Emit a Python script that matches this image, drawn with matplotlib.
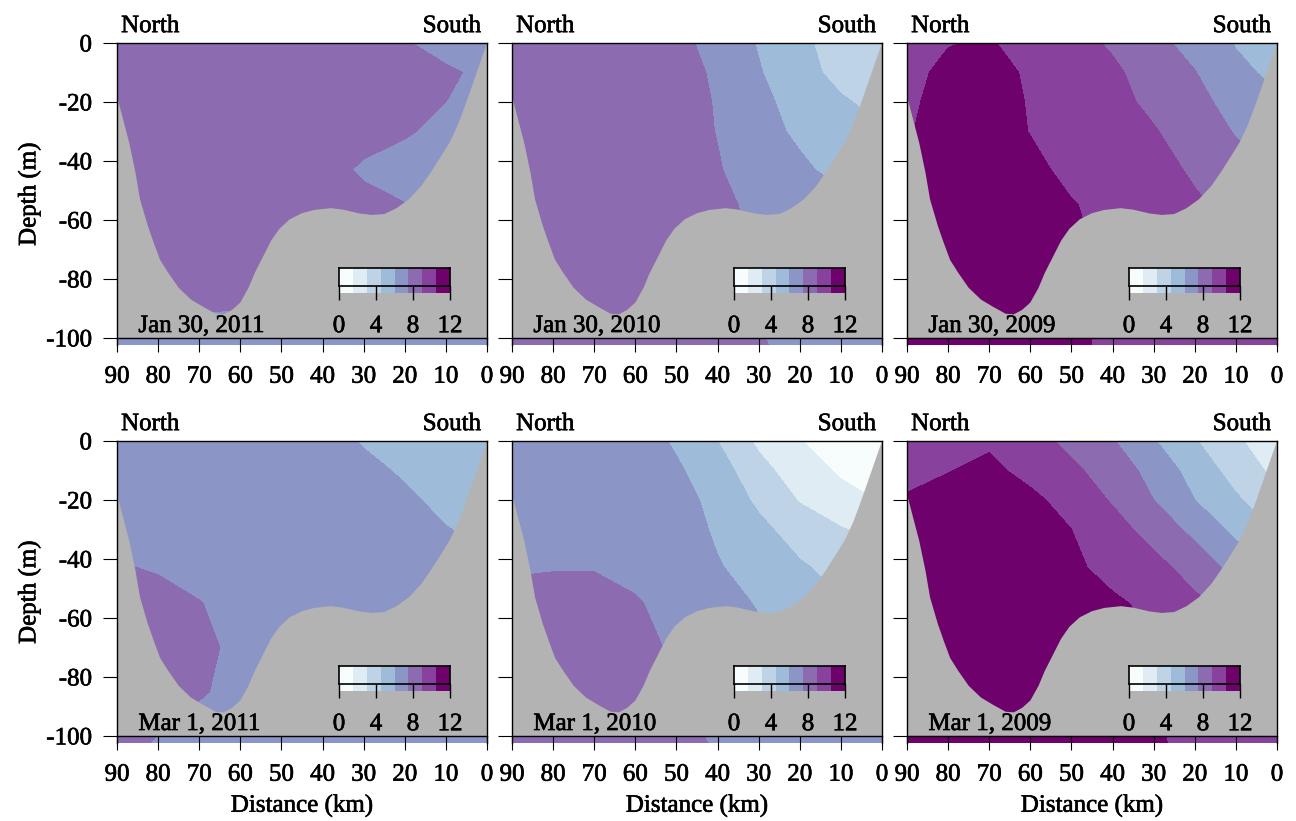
import numpy as np
import matplotlib
matplotlib.use("Agg")
import matplotlib.pyplot as plt
import matplotlib.patheffects as pe
from matplotlib.colors import ListedColormap

plt.rcParams['font.family'] = 'Liberation Serif'
plt.rcParams['font.size'] = 18
plt.rcParams['axes.unicode_minus'] = False

# grid of the sections: distance (km) x depth (m)
dist = [90, 80, 70, 60, 50, 40, 30, 20, 10, 0]
depth = [0, -10, -20, -30, -43, -55, -70, -85, -103]

# values, one row per depth
jan_2011 = [
    [8.2, 8.2, 8.2, 8.2, 8.2, 8.2, 8.0, 7.6, 7.0, 6.8],
    [8.2, 8.2, 8.2, 8.2, 8.2, 8.2, 8.1, 7.9, 7.7, 7.2],
    [8.2, 8.2, 8.2, 8.2, 8.2, 8.2, 8.1, 7.9, 7.5, 7.0],
    [8.2, 8.2, 8.2, 8.2, 8.2, 8.2, 8.0, 7.65, 7.1, 6.9],
    [8.2, 8.2, 8.2, 8.2, 8.2, 8.0, 7.3, 6.9, 6.9, 6.9],
    [8.2, 8.2, 8.2, 8.2, 8.1, 8.0, 7.9, 7.55, 7.0, 6.9],
    [8.2, 8.2, 8.1, 8.1, 8.0, 8.0, 7.9, 7.5, 7.0, 6.9],
    [8.0, 7.9, 7.8, 7.7, 7.7, 7.7, 7.7, 7.4, 7.0, 6.9],
    [7.0, 7.0, 7.0, 7.0, 7.0, 7.0, 7.0, 7.0, 7.0, 7.0],
]
jan_2010 = [
    [8.4, 8.4, 8.3, 8.2, 7.9, 7.0, 5.9, 4.9, 3.7, 3.0],
    [8.4, 8.4, 8.3, 8.2, 8.0, 7.3, 6.1, 5.1, 4.0, 3.3],
    [8.4, 8.4, 8.3, 8.2, 8.1, 7.4, 6.4, 5.4, 4.7, 4.0],
    [8.4, 8.4, 8.3, 8.2, 8.1, 7.45, 6.6, 5.7, 5.0, 4.6],
    [8.4, 8.4, 8.3, 8.2, 8.1, 7.6, 6.8, 6.3, 5.5, 5.0],
    [8.4, 8.4, 8.3, 8.2, 8.1, 7.9, 7.1, 6.8, 6.5, 6.2],
    [8.4, 8.4, 8.3, 8.3, 8.2, 8.0, 7.4, 7.2, 7.0, 7.0],
    [8.3, 8.3, 8.3, 8.2, 8.1, 7.9, 7.4, 7.2, 7.0, 7.0],
    [8.0, 8.0, 8.0, 8.0, 8.0, 7.9, 7.6, 7.2, 7.0, 7.0],
]
jan_2009 = [
    [10.2, 10.45, 10.62, 9.95, 9.4, 8.85, 7.9, 7.0, 5.9, 5.0],
    [10.2, 10.75, 11.0, 10.3, 9.7, 9.2, 8.5, 7.55, 6.4, 5.6],
    [10.3, 10.9, 11.1, 10.4, 9.9, 9.4, 8.7, 7.9, 7.0, 6.2],
    [10.4, 11.0, 11.2, 10.45, 10.0, 9.6, 9.1, 8.3, 7.4, 6.6],
    [10.6, 11.2, 11.3, 10.9, 10.1, 9.8, 9.5, 8.8, 8.0, 7.5],
    [10.8, 11.2, 11.3, 11.0, 10.6, 10.0, 9.7, 9.2, 8.6, 8.0],
    [10.8, 11.2, 11.3, 11.0, 10.8, 10.2, 9.8, 9.5, 9.0, 8.5],
    [10.8, 11.2, 11.3, 11.0, 10.8, 10.2, 9.8, 9.5, 9.0, 8.5],
    [11.0, 11.0, 11.0, 10.9, 10.7, 10.3, 10.0, 9.8, 9.6, 9.5],
]
mar_2011 = [
    [6.9, 6.9, 6.9, 6.8, 6.7, 6.5, 5.9, 5.3, 4.9, 4.6],
    [6.9, 6.9, 6.9, 6.8, 6.8, 6.7, 6.3, 5.85, 5.3, 5.0],
    [6.9, 6.9, 6.9, 6.8, 6.8, 6.8, 6.6, 6.2, 5.7, 5.4],
    [7.0, 6.9, 6.9, 6.8, 6.8, 6.8, 6.7, 6.4, 6.05, 5.7],
    [7.6, 7.4, 7.0, 6.9, 6.8, 6.8, 6.8, 6.6, 6.3, 6.0],
    [8.0, 7.9, 7.55, 7.0, 6.8, 6.8, 6.8, 6.7, 6.5, 6.3],
    [8.0, 8.0, 7.8, 7.2, 6.9, 6.8, 6.8, 6.7, 6.6, 6.5],
    [8.0, 7.9, 7.6, 7.2, 6.9, 6.8, 6.8, 6.7, 6.6, 6.5],
    [7.8, 7.4, 7.0, 6.9, 6.8, 6.8, 6.8, 6.8, 6.8, 6.8],
]
mar_2010 = [
    [7.0, 7.0, 6.9, 6.7, 5.8, 4.5, 2.7, 1.55, 0.8, 0.5],
    [7.0, 7.0, 7.0, 6.8, 6.2, 5.2, 3.5, 2.2, 1.3, 0.9],
    [7.1, 7.1, 7.0, 6.9, 6.5, 5.6, 4.2, 2.9, 2.0, 1.4],
    [7.1, 7.1, 7.1, 7.0, 6.7, 5.8, 4.9, 3.8, 3.1, 2.5],
    [7.4, 7.45, 7.45, 7.2, 6.9, 6.1, 5.5, 4.7, 4.0, 3.5],
    [7.8, 7.9, 7.9, 7.6, 7.1, 6.5, 5.9, 5.2, 4.6, 4.0],
    [7.8, 8.0, 8.0, 7.9, 7.3, 6.8, 6.3, 5.8, 5.3, 5.0],
    [7.8, 8.0, 8.0, 7.9, 7.5, 7.0, 6.6, 6.4, 6.2, 6.0],
    [7.9, 7.9, 7.9, 7.8, 7.7, 7.45, 7.0, 6.8, 6.8, 6.8],
]
mar_2009 = [
    [10.0, 10.2, 10.3, 9.6, 8.6, 7.6, 6.1, 4.6, 3.3, 1.7],
    [10.2, 10.45, 10.8, 10.1, 9.3, 8.3, 7.0, 5.4, 3.9, 2.6],
    [10.6, 11.0, 11.2, 10.8, 10.0, 8.85, 7.5, 6.0, 4.7, 3.5],
    [10.8, 11.2, 11.3, 11.1, 10.5, 9.6, 8.4, 7.1, 5.6, 4.3],
    [10.9, 11.2, 11.3, 11.2, 10.75, 10.1, 9.5, 8.4, 7.0, 6.0],
    [10.9, 11.2, 11.3, 11.3, 11.0, 10.7, 10.2, 9.3, 8.5, 7.5],
    [10.9, 11.2, 11.3, 11.3, 11.1, 10.9, 10.6, 10.0, 9.5, 9.0],
    [10.9, 11.2, 11.3, 11.3, 11.1, 10.9, 10.6, 10.0, 9.5, 9.0],
    [11.0, 11.0, 11.0, 11.0, 10.9, 10.8, 10.6, 10.3, 10.0, 9.8],
]

# sea floor along the section
bath_dist = [90, 88.5, 87, 85.5, 84.4, 82.5, 81, 79.5, 77.5, 75, 72, 69, 66, 64,
             62, 60, 58, 56.5, 54.5, 52.5, 50.5, 48, 45, 42, 38, 35, 31, 28, 25,
             22, 19, 16, 13.5, 11, 9, 7, 5, 3, 1, 0]
bath_depth = [-18, -26, -34, -44, -53, -62, -68, -73.6, -78, -83, -87, -89.5,
              -91.8, -92, -90.5, -88, -83, -78, -72.5, -67, -63, -59.8, -57.7,
              -56.6, -56, -56.5, -57.8, -58.3, -58, -56, -53, -48.5, -43.5, -38,
              -33.5, -27.5, -20, -12, -4, 0]

levels = [0, 1.5, 3, 4.5, 6, 7.5, 9, 10.5, 12]
bupu = ['#f7fcfd', '#e0ecf4', '#bfd3e6', '#9ebcda',
        '#8c96c6', '#8c6bb1', '#88419d', '#6e016b']

panels = [("Jan 30, 2011", jan_2011), ("Jan 30, 2010", jan_2010),
          ("Jan 30, 2009", jan_2009), ("Mar 1, 2011", mar_2011),
          ("Mar 1, 2010", mar_2010), ("Mar 1, 2009", mar_2009)]

# thicker text, like the original render
heavy = [pe.withStroke(linewidth=0.45, foreground='black')]

fig = plt.figure(figsize=(12.96, 8.21), dpi=100)
lefts = [117, 512, 907]
tops = [43, 441]

for i, (label, vals) in enumerate(panels):
    r, c = divmod(i, 3)
    ax = fig.add_axes([lefts[c] / 1296, 1 - (tops[r] + 302) / 821,
                       370 / 1296, 302 / 821])
    ax.contourf(dist, depth, vals, levels=levels, colors=bupu)
    ax.fill(bath_dist + [0, 90], bath_depth + [-100, -100],
            color='#b3b3b3', lw=0, zorder=2)
    ax.set_xlim(90, 0)
    ax.set_ylim(-102.4, 0)
    ax.spines['bottom'].set_position(('data', -100))
    for s in ax.spines.values():
        s.set_linewidth(1.0)
        s.set_zorder(3)
    ax.set_xticks(range(0, 91, 10))
    ax.set_yticks(range(-100, 1, 20))
    ax.tick_params(axis='both', direction='out', length=10, width=0.8)
    ax.tick_params(axis='x', pad=10)
    ax.tick_params(axis='y', pad=8)
    if c == 0:
        ax.set_ylabel("Depth (m)", labelpad=4)
    else:
        ax.set_yticklabels([])
    if r == 1:
        ax.set_xlabel("Distance (km)", labelpad=6)

    texts = [ax.text(0.011, 1.036, "North", transform=ax.transAxes,
                     ha='left', va='baseline'),
             ax.text(0.984, 1.036, "South", transform=ax.transAxes,
                     ha='right', va='baseline'),
             ax.text(84.8, -98, label, ha='left', va='baseline', zorder=4)]

    # small colour key
    cax = ax.inset_axes([0.6, 0.173, 0.3, 0.083])
    cax.pcolormesh(levels, [0, 1], [list(range(8))], cmap=ListedColormap(bupu),
                   vmin=-0.5, vmax=7.5)
    cax.set_xlim(0, 12)
    cax.set_ylim(0, 1)
    cax.spines['bottom'].set_position(('data', 0.268))
    cax.spines['left'].set_bounds(0.268, 1)
    cax.spines['right'].set_bounds(0.268, 1)
    for s in cax.spines.values():
        s.set_linewidth(1.2)
    cax.set_yticks([])
    cax.set_xticks([0, 4, 8, 12])
    cax.tick_params(axis='x', direction='out', length=10, width=1.0, pad=11)

    texts += ax.get_xticklabels() + ax.get_yticklabels() + cax.get_xticklabels()
    texts += [ax.xaxis.label, ax.yaxis.label]
    for t in texts:
        t.set_path_effects(heavy)

fig.savefig("out.png", dpi=100)
